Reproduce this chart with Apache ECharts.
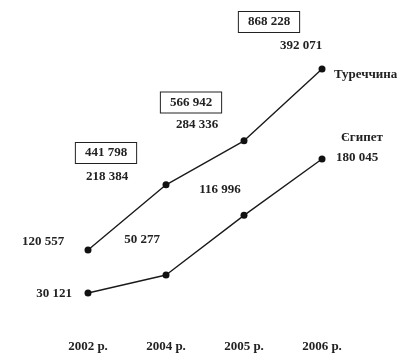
<!DOCTYPE html>
<html><head><meta charset="utf-8">
<script src="https://cdn.jsdelivr.net/npm/echarts@6/dist/echarts.min.js"></script>
<style>html,body{margin:0;padding:0;background:#fff}#c{width:416px;height:359px}</style>
</head><body><div id="c"></div>
<script>
const years = ['2002 р.', '2004 р.', '2005 р.', '2006 р.'];
const turkey = [120557, 218384, 284336, 392071];
const egypt = [30121, 50277, 116996, 180045];
const totals = [null, 441798, 566942, 868228];
const seriesNames = ['Туреччина', 'Єгипет'];

const FONT = 'Liberation Serif';
const TXT = '#222';
function fmt(v) { return String(v).replace(/\B(?=(\d{3})+(?!\d))/g, ' '); }

const turkeyOffsets = [[-45, -8], [-59, -8], [-47, -16], [-21, -23]];
const egyptOffsets = [[-34, 1], [-24, -35], [-24, -26], [35, -1]];
const totalOffsets = [[0, 0], [-60, 0], [-53, -12], [-53, 0]];

function labelled(values, offsets) {
  return values.map((v, i) => ({ value: v, label: { offset: offsets[i] } }));
}
const baseLabel = { show: true, position: 'inside', fontFamily: FONT, fontSize: 13, fontWeight: 'bold', color: TXT, formatter: p => fmt(p.value) };

const chart = echarts.init(document.getElementById('c'), null, { renderer: 'canvas' });
chart.setOption({
  animation: false,
  backgroundColor: '#fff',
  grid: { left: 49, right: 55, top: 20, bottom: 29 },
  xAxis: {
    type: 'category', data: years, boundaryGap: true,
    axisLine: { show: false }, axisTick: { show: false }, splitLine: { show: false },
    axisLabel: { fontFamily: FONT, fontSize: 13, fontWeight: 'bold', color: TXT, margin: 10 }
  },
  yAxis: [
    { type: 'value', min: 551, max: 465577, show: false, splitLine: { show: false } },
    { type: 'value', min: -11276, max: 335563, show: false, splitLine: { show: false } },
    { type: 'value', min: -134749, max: 875023, show: false, splitLine: { show: false } }
  ],
  series: [
    {
      name: seriesNames[0], type: 'line', yAxisIndex: 0,
      data: labelled(turkey, turkeyOffsets),
      symbol: 'circle', symbolSize: 7,
      lineStyle: { color: '#1a1a1a', width: 1.4 }, itemStyle: { color: '#111' },
      label: baseLabel,
      endLabel: { show: true, formatter: '{a}', fontFamily: FONT, fontSize: 13, fontWeight: 'bold', color: TXT, offset: [4, 6] }
    },
    {
      name: seriesNames[1], type: 'line', yAxisIndex: 1,
      data: labelled(egypt, egyptOffsets),
      symbol: 'circle', symbolSize: 7,
      lineStyle: { color: '#1a1a1a', width: 1.4 }, itemStyle: { color: '#111' },
      label: baseLabel,
      endLabel: { show: true, formatter: '{a}', fontFamily: FONT, fontSize: 13, fontWeight: 'bold', color: TXT, offset: [11, -21] }
    },
    {
      name: 'total', type: 'line', yAxisIndex: 2,
      data: labelled(totals, totalOffsets),
      symbol: 'circle', symbolSize: 1,
      lineStyle: { width: 0, opacity: 0 }, itemStyle: { color: 'rgba(0,0,0,0)', borderWidth: 0 },
      label: Object.assign({}, baseLabel, {
        borderColor: '#222', borderWidth: 1, padding: [4, 9, 3, 9], backgroundColor: '#fff'
      })
    }
  ]
});
</script></body></html>
